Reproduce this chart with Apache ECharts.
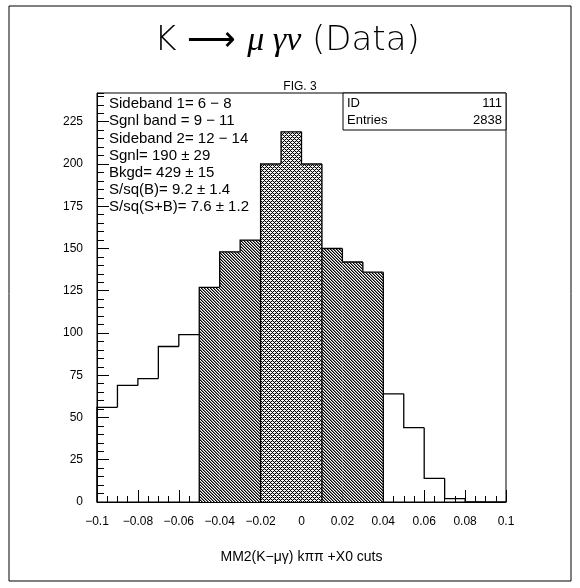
<!DOCTYPE html>
<html>
<head>
	<meta charset="utf-8">
	<title>K mu gamma nu</title>
	<script src="https://cdn.jsdelivr.net/npm/echarts@6/dist/echarts.min.js"></script>
	<style>
		body{margin:0;background:#fff}
		#main{width:580px;height:588px}
	</style>
</head>
<body>
<div id="main"></div>
<script>
	// histogram bins (low edge, high edge) and entries
	var binLow  = [-0.1,-0.09,-0.08,-0.07,-0.06,-0.05,-0.04,-0.03,-0.02,-0.01,0,0.01,0.02,0.03,0.04,0.05,0.06,0.07,0.08,0.09];
	var binHigh = [-0.09,-0.08,-0.07,-0.06,-0.05,-0.04,-0.03,-0.02,-0.01,0,0.01,0.02,0.03,0.04,0.05,0.06,0.07,0.08,0.09,0.1];
	var counts  = [56,69,73,92,99,127,148,155,200,219,200,150,142,136,64,44,14,2,0,0];
	// which band each bin belongs to
	var binBand = ['out','out','out','out','out','side','side','side','sig','sig','sig','side','side','side','out','out','out','out','out','out'];

	var infoLines = [
		'Sideband 1= 6 \u2212 8',
		'Sgnl band = 9 \u2212 11',
		'Sideband 2= 12 \u2212 14',
		'Sgnl= 190 \u00b1 29',
		'Bkgd= 429 \u00b1 15',
		'S/sq(B)= 9.2 \u00b1 1.4',
		'S/sq(S+B)= 7.6 \u00b1 1.2'
	];
	var statNames = ['ID', 'Entries'];
	var statValues = ['111', '2838'];

	// hatch patterns like the old ROOT fill styles
	function makePattern(size, isDark){
		var c = document.createElement('canvas');
		c.width = size; c.height = size;
		var ctx = c.getContext('2d');
		ctx.fillStyle = '#fff';
		ctx.fillRect(0,0,size,size);
		for (var x = 0; x < size; x++){
			for (var y = 0; y < size; y++){
				var col = null;
				if (isDark){
					var m = ((x - y) % 3 + 3) % 3;
					if (m === 0) col = '#000';
					else if (m === 1) col = '#808080';
				} else {
					if (((x + y) % 4 === 0) || (((x - y) + 8) % 4 === 0)) col = '#000';
					else if ((x + y) % 2 === 1 && x % 2 === 0) col = '#bbb';
				}
				if (col){ ctx.fillStyle = col; ctx.fillRect(x,y,1,1); }
			}
		}
		return c;
	}
	var sidePat = {image: makePattern(6, true), repeat: 'repeat'};
	var sigPat  = {image: makePattern(4, false), repeat: 'repeat'};

	var binData = [];
	for (var i = 0; i < counts.length; i++){
		binData.push([binLow[i], binHigh[i], counts[i], i]);
	}

	var chart = echarts.init(document.getElementById('main'));

	function fmtX(v){
		if (Math.abs(v) < 1e-9) return '0';
		return String(+v.toFixed(2)).replace('-', '\u2212');
	}

	var lineSt = {stroke:'#000', lineWidth:1.3, fill:null};

	var graphics = [
		{type:'rect', shape:{x:9,y:6,width:562,height:575}, style:{fill:null,stroke:'#000',lineWidth:1}, silent:true},
		{type:'text', x:287, y:41, style:{
			text:'{n|K \u27f6 }{g|\u03bc \u03b3\u03bd}{n| (Data)}',
			align:'center', verticalAlign:'middle',
			rich:{
				n:{fontSize:34, fontFamily:"'DejaVu Sans ExtraLight', 'DejaVu Sans'", fontWeight:200, fill:'#000'},
				g:{fontSize:34, fontFamily:'Liberation Serif', fontStyle:'italic', fill:'#000'}
			}
		}},
		{type:'text', x:300, y:87, style:{text:'FIG. 3', align:'center', verticalAlign:'middle', fontSize:12, fontFamily:'Liberation Sans', fill:'#000'}},
		{type:'rect', shape:{x:343,y:93,width:163,height:37}, style:{fill:'#fff',stroke:'#000',lineWidth:1}, z:10}
	];
	for (var k = 0; k < statNames.length; k++){
		graphics.push({type:'text', x:347, y:103 + k*17, z:11, style:{text:statNames[k], align:'left', verticalAlign:'middle', fontSize:13, fontFamily:'Liberation Sans', fill:'#000'}});
		graphics.push({type:'text', x:502, y:103 + k*17, z:11, style:{text:statValues[k], align:'right', verticalAlign:'middle', fontSize:13, fontFamily:'Liberation Sans', fill:'#000'}});
	}
	for (var j = 0; j < infoLines.length; j++){
		graphics.push({type:'text', x:109, y:104 + j*17.2, z:11, style:{text:infoLines[j], align:'left', verticalAlign:'middle', fontSize:15, fontFamily:'Liberation Sans', fill:'#000'}});
	}

	var option = {
		animation:false,
		backgroundColor:'#fff',
		grid:{left:97, top:93, width:409, height:409, show:true, borderColor:'#000', borderWidth:1, backgroundColor:'transparent'},
		xAxis:{
			type:'value', min:-0.1, max:0.1, interval:0.02,
			name:'MM2(K\u2212\u03bc\u03b3) k\u03c0\u03c0 +X0 cuts',
			nameLocation:'middle', nameGap:48,
			nameTextStyle:{fontSize:14, fontFamily:'Liberation Sans', color:'#000'},
			axisLine:{onZero:false, lineStyle:{color:'#000', width:1}},
			axisTick:{inside:true, length:12, lineStyle:{color:'#000'}},
			minorTick:{show:true, splitNumber:4, length:6, lineStyle:{color:'#000'}},
			axisLabel:{formatter:fmtX, fontSize:12, fontFamily:'Liberation Sans', color:'#000', margin:14},
			splitLine:{show:false}
		},
		yAxis:[{
			type:'value', min:0, max:242, interval:25,
			axisLine:{show:true, onZero:false, lineStyle:{color:'#000', width:1}},
			axisTick:{show:true, inside:true, length:12, lineStyle:{color:'#000'}},
			axisLabel:{fontSize:12, fontFamily:'Liberation Sans', color:'#000', margin:14, showMaxLabel:false},
			splitLine:{show:false}
		},{
			type:'value', min:0, max:242, interval:5, position:'left',
			axisLine:{show:false, onZero:false},
			axisTick:{show:true, inside:true, length:7, lineStyle:{color:'#000'}},
			axisLabel:{show:false},
			splitLine:{show:false}
		}],
		graphic:graphics,
		series:[{
			type:'custom',
			data:binData,
			clip:false,
			renderItem:function(params, api){
				var lo = api.value(0), hi = api.value(1), c = api.value(2), idx = api.value(3);
				var prev = idx > 0 ? counts[idx-1] : 0;
				var band = binBand[idx];
				var prevBand = idx > 0 ? binBand[idx-1] : 'out';
				var pBL = api.coord([lo, 0]), pTL = api.coord([lo, c]), pTR = api.coord([hi, c]);
				var pPrev = api.coord([lo, prev]);
				var kids = [];
				if (band !== 'out'){
					kids.push({type:'rect', shape:{x:pBL[0], y:pTL[1], width:pTR[0]-pBL[0], height:pBL[1]-pTL[1]},
						style:{fill: band === 'side' ? sidePat : sigPat, stroke:null}});
				}
				kids.push({type:'polyline', shape:{points:[pPrev, pTL, pTR]}, style:lineSt});
				if (band !== prevBand){
					var lowTop = api.coord([lo, Math.min(prev, c)]);
					kids.push({type:'line', shape:{x1:pBL[0], y1:pBL[1], x2:lowTop[0], y2:lowTop[1]}, style:lineSt});
				}
				return {type:'group', children:kids};
			}
		}]
	};
	chart.setOption(option);
</script>
</body>
</html>
